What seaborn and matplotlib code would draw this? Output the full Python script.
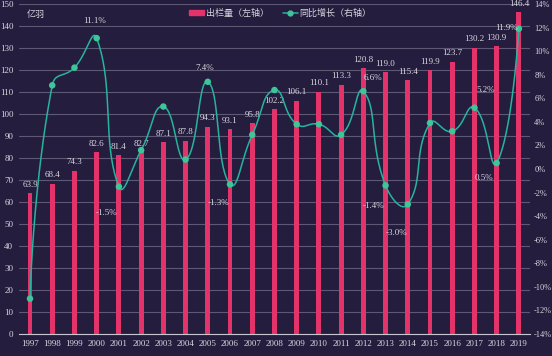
import numpy as np
import pandas as pd
import matplotlib
matplotlib.use("Agg")
import matplotlib.pyplot as plt
import seaborn as sns
from matplotlib.patches import Patch
from matplotlib.lines import Line2D

# data
years = [str(y) for y in range(1997, 2020)]
output = [63.9, 68.4, 74.3, 82.6, 81.4, 82.7, 87.1, 87.8, 94.3, 93.1, 95.8, 102.2,
          106.1, 110.1, 113.3, 120.8, 119.0, 115.4, 119.9, 123.7, 130.2, 130.9, 146.4]
growth = [-11.0, 7.1, 8.6, 11.1, -1.5, 1.6, 5.3, 0.8, 7.4, -1.3, 2.9, 6.7,
          3.8, 3.8, 2.9, 6.6, -1.4, -3.0, 3.9, 3.2, 5.2, 0.5, 11.9]
labelled_years = ["2000", "2001", "2005", "2006", "2012", "2013", "2014", "2017", "2018", "2019"]

# label offsets in pixels (style only)
label_offsets = {"2000": (-2, 17), "2001": (-12, -26), "2005": (-3, 14), "2006": (-12, -19),
                 "2012": (10, 13), "2013": (-12, -21), "2014": (-11, -29), "2017": (11, 18),
                 "2018": (-13, -15), "2019": (-12, 1)}

df = pd.DataFrame({"year": years, "output": output, "growth": growth})
df["pos"] = np.arange(len(years))

bg = "#241d3d"
bar_c = "#e4336a"
line_c = "#26b49f"
mark_c = "#3cc69a"
txt_c = "#d8d6e0"
serif = ["Liberation Serif", "DejaVu Serif"]
cjk = ["Noto Sans CJK SC", "DejaVu Sans"]

sns.set_style("dark")
plt.rcParams["font.family"] = serif

fig = plt.figure(figsize=(5.52, 3.56), dpi=100, facecolor=bg)
ax_l, ax_b, ax_w, ax_h = 18.9 / 552, 1 - 334 / 356, (530 - 18.9) / 552, 330 / 356
ax = fig.add_axes([ax_l, ax_b, ax_w, ax_h])
ax.set_facecolor(bg)

sns.barplot(data=df, x="year", y="output", color=bar_c, width=0.22,
            saturation=1, linewidth=0, edgecolor="none", ax=ax, zorder=2)
ax.set_xlim(-0.5, len(years) - 0.5)
ax.set_ylim(0, 150)
ax.set_yticks(range(0, 151, 10))
ax.grid(axis="y", color="#5d5874", linewidth=0.8)
ax.grid(axis="x", visible=False)
ax.set_axisbelow(True)
for s in ax.spines.values():
    s.set_visible(False)
ax.spines["bottom"].set_visible(True)
ax.spines["bottom"].set_color("#c8c6d2")
ax.spines["bottom"].set_linewidth(0.8)
ax.set_xticks(np.arange(len(years)))
ax.set_xticklabels(years)
ax.set_xticks(np.arange(-0.5, len(years)), minor=True)
ax.tick_params(axis="x", which="major", length=0, colors=txt_c, labelsize=6.5, pad=4)
ax.tick_params(axis="x", which="minor", length=3, color="#c8c6d2", direction="inout")
ax.tick_params(axis="y", length=0, colors=txt_c, labelsize=6.5, pad=4)
ax.set_xlabel("")
ax.set_ylabel("")

for p, v in zip(df["pos"], output):
    ax.text(p, v + 2, f"{v:.1f}", ha="center", va="bottom", fontsize=6.5, color=txt_c)

fig.text(27 / 552, 1 - 14 / 356, "亿羽", fontsize=6.5, color=txt_c,
         family=cjk, ha="left", va="center")

# right axis
ax2 = ax.twinx()
ax2.set_ylim(-14, 14)
ax2.set_yticks(range(-14, 15, 2))
ax2.set_yticklabels([f"{t}%" for t in range(-14, 15, 2)])
ax2.tick_params(axis="y", length=0, colors=txt_c, labelsize=6, pad=3)
for s in ax2.spines.values():
    s.set_visible(False)
ax2.grid(False)

# smooth curve: bezier through the points, control points from neighbours (pixel space)
px_x = ax_w * 552 / len(years)
px_y = ax_h * 356 / 28
P = np.column_stack([df["pos"].to_numpy(float) * px_x, np.array(growth) * px_y])
smooth = 0.5
n = len(P)
cps_in, cps_out = [P[0]], [P[0]]
for i in range(1, n - 1):
    v = P[i + 1] - P[i - 1]
    d0 = np.linalg.norm(P[i] - P[i - 1])
    d1 = np.linalg.norm(P[i + 1] - P[i])
    r0, r1 = d0 / (d0 + d1), d1 / (d0 + d1)
    cps_in.append(P[i] - v * smooth * r0)
    cps_out.append(P[i] + v * smooth * r1)
cps_in.append(P[-1])
cps_out.append(P[-1])
t = np.linspace(0, 1, 40)[:, None]
curve = []
for i in range(n - 1):
    p0, c0, c1, p1 = P[i], cps_out[i], cps_in[i + 1], P[i + 1]
    seg = (1 - t) ** 3 * p0 + 3 * (1 - t) ** 2 * t * c0 + 3 * (1 - t) * t ** 2 * c1 + t ** 3 * p1
    curve.append(seg)
curve = np.vstack(curve)
ax2.plot(curve[:, 0] / px_x, curve[:, 1] / px_y, color=line_c, linewidth=1.1, zorder=3)
sns.scatterplot(data=df, x="pos", y="growth", color=mark_c, s=22, edgecolor="none",
                ax=ax2, zorder=4)
ax2.set_xlabel("")
ax2.set_ylabel("")

for yr in labelled_years:
    row = df[df["year"] == yr].iloc[0]
    ax2.annotate(f"{row['growth']:.1f}%", (row["pos"], row["growth"]),
                 xytext=label_offsets[yr], textcoords="offset pixels",
                 ha="center", va="center", fontsize=6.5, color=txt_c, zorder=5)

# legend
handles = [Patch(color=bar_c), Line2D([], [], color=line_c, marker="o", markersize=3.5,
                                      markerfacecolor=mark_c, markeredgecolor=mark_c, linewidth=1.1)]
fig.legend(handles, ["出栏量（左轴）", "同比增长（右轴）"], loc="center",
           bbox_to_anchor=(0.508, 1 - 13 / 356), ncol=2, frameon=False,
           prop={"family": cjk, "size": 6.5}, labelcolor=txt_c,
           handlelength=1.6, handleheight=0.5, handletextpad=0.2, columnspacing=1.6)

fig.savefig("out.png", dpi=100, facecolor=bg)
